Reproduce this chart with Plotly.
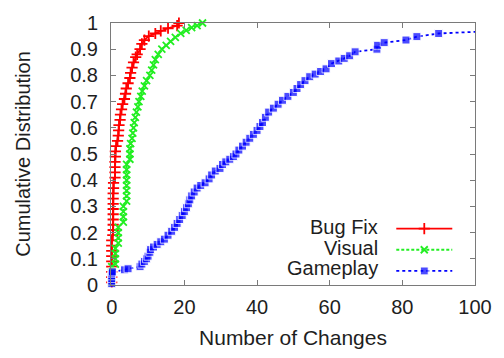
import plotly.graph_objects as go

# ---- data ----
bug_x = [0, 0, 0, 0, 0, 0, 0, 0, 0, 0.3, 0.4, 0.4, 0.4, 0.4, 0.4, 0.4, 0.4, 0.4, 0.5, 0.5,
         0.9, 0.9, 0.9, 0.9, 1.0, 1.0, 1.2, 1.6, 1.8, 1.9, 2.0, 2.3, 2.4, 2.7, 3.0, 3.5, 3.8,
         4.0, 4.5, 5.0, 5.2, 5.6, 6.0, 6.6, 7.0, 7.8, 8.3, 9.0, 10.2, 12.0, 13.5, 15.5, 18.0, 18.5]
bug_y = [0.01, 0.03, 0.05, 0.07, 0.09, 0.11, 0.13, 0.15, 0.17, 0.19, 0.21, 0.23, 0.25, 0.27,
         0.29, 0.31, 0.33, 0.35, 0.37, 0.39, 0.41, 0.43, 0.45, 0.47, 0.49, 0.51, 0.53, 0.55,
         0.57, 0.59, 0.61, 0.63, 0.65, 0.67, 0.69, 0.71, 0.73, 0.75, 0.77, 0.79, 0.81, 0.83,
         0.85, 0.87, 0.88, 0.90, 0.92, 0.935, 0.95, 0.96, 0.97, 0.98, 0.99, 1.0]

vis_x = [0, 0, 0, 0, 1, 1, 1, 1, 1.8, 1.8, 1.8, 1.8, 3.2, 3.2, 3.2, 3.2, 4.1, 4.1, 4.1, 4.1,
         4.1, 4.1, 4.1, 4.1, 5.0, 5.0, 5.0, 5.2, 5.6, 5.8, 6.0, 6.2, 6.5, 6.8, 7.2, 7.5, 8.0,
         8.4, 9.0, 9.6, 10.5, 11.0, 11.5, 12.0, 12.8, 13.8, 15.0, 16.2, 17.5, 19.0, 20.5, 22.0,
         23.5, 25.0]
vis_y = [0.01, 0.03, 0.05, 0.07, 0.08, 0.10, 0.12, 0.14, 0.16, 0.18, 0.20, 0.22, 0.24, 0.26,
         0.28, 0.30, 0.32, 0.34, 0.36, 0.38, 0.40, 0.42, 0.44, 0.46, 0.48, 0.50, 0.52, 0.54,
         0.56, 0.58, 0.60, 0.62, 0.64, 0.66, 0.68, 0.70, 0.72, 0.74, 0.76, 0.78, 0.80, 0.82,
         0.84, 0.86, 0.88, 0.90, 0.915, 0.93, 0.945, 0.96, 0.972, 0.982, 0.99, 1.0]

game_x = [0, 0, 0, 0, 0, 0.2, 3.5, 4.5, 7.8, 8.3, 9, 9.6, 10, 10.5, 10.7, 11.5, 12.5, 13.5,
          14.5, 15.5, 16.5, 17.3, 18, 18.7, 19.4, 20, 20.6, 21.1, 21.5, 22, 22.7, 23.5, 24.5,
          25.7, 26.8, 27.5, 28.5, 29.8, 30.5, 31.4, 32.5, 33.5, 34.2, 35, 36, 37, 38, 39, 40,
          40.8, 41.5, 42.3, 43.2, 44.5, 45.8, 47, 48.5, 50, 51, 52, 53.2, 54.5, 56, 57.5, 59,
          60.5, 62.5, 64, 65.5, 67, 73, 73.2, 75, 81, 84, 90, 130]
game_y = [0.005, 0.015, 0.025, 0.035, 0.045, 0.05, 0.058, 0.062, 0.07, 0.08, 0.09, 0.10, 0.11,
          0.125, 0.135, 0.145, 0.155, 0.165, 0.175, 0.19, 0.205, 0.22, 0.235, 0.25, 0.265,
          0.28, 0.295, 0.31, 0.325, 0.34, 0.355, 0.37, 0.38, 0.39, 0.405, 0.42, 0.435, 0.445,
          0.46, 0.47, 0.48, 0.49, 0.50, 0.515, 0.53, 0.545, 0.56, 0.575, 0.59, 0.605, 0.62,
          0.64, 0.66, 0.675, 0.69, 0.705, 0.72, 0.735, 0.75, 0.765, 0.78, 0.795, 0.805, 0.815,
          0.825, 0.845, 0.855, 0.865, 0.875, 0.89, 0.90, 0.915, 0.925, 0.935, 0.948, 0.96, 0.985]

series_names = ["Bug Fix", "Visual", "Gameplay"]
x_ticks = [0, 20, 40, 60, 80, 100]
y_ticks = [0, 0.1, 0.2, 0.3, 0.4, 0.5, 0.6, 0.7, 0.8, 0.9, 1]

FONT = "Liberation Sans, Arial, sans-serif"
TXT = "#1e1e1e"
AX = "#7a7a7a"
FS = 20

fig = go.Figure()

fig.add_trace(go.Scatter(
    x=bug_x, y=bug_y, mode="lines+markers", name=" ", cliponaxis=False,
    line=dict(color="#ff0000", width=1.8, dash="solid"),
    marker=dict(symbol="cross-thin-open", size=8, line=dict(color="#ff0000", width=1.8)),
))
fig.add_trace(go.Scatter(
    x=vis_x, y=vis_y, mode="lines+markers", name=" ", cliponaxis=False,
    line=dict(color="#22ee22", width=1.8, dash="3px,2px"),
    marker=dict(symbol="x-thin-open", size=7, line=dict(color="#22ee22", width=1.8)),
))
game_sizes = [8] * (len(game_x) - 1) + [0]
fig.add_trace(go.Scatter(
    x=game_x, y=game_y, mode="lines+markers", name=" ", cliponaxis=False,
    line=dict(color="#0000ff", width=1.8, dash="dot"),
    marker=dict(symbol="square", size=game_sizes, color="#0000ff"),
))

# legend labels (text sits left of the sample, as in the reference)
row_y = [0.22, 0.142, 0.064]
for name, yy in zip(series_names, row_y):
    fig.add_annotation(xref="paper", yref="paper", x=0.738, y=yy, text=name,
                       showarrow=False, xanchor="right", yanchor="middle",
                       font=dict(family=FONT, size=FS, color=TXT))

axis_common = dict(showline=True, linecolor=AX, linewidth=1, mirror="ticks",
                   ticks="inside", ticklen=5, tickcolor=AX, showgrid=False, zeroline=False,
                   tickfont=dict(family=FONT, size=FS, color=TXT))

fig.update_xaxes(range=[-0.2, 100], tickvals=x_ticks, ticklabelstandoff=4,
                 title=dict(text="Number of Changes", font=dict(family=FONT, size=21, color=TXT),
                            standoff=13),
                 **axis_common)
fig.update_yaxes(range=[0, 1], tickvals=y_ticks, ticklabelstandoff=8,
                 title=dict(text="Cumulative Distribution",
                            font=dict(family=FONT, size=FS, color=TXT), standoff=34),
                 **axis_common)

fig.update_layout(
    width=504, height=358,
    margin=dict(l=111, r=25, t=15, b=71),
    plot_bgcolor="white", paper_bgcolor="white",
    showlegend=True,
    legend=dict(x=0.77, y=0.275, xanchor="left", yanchor="top", bgcolor="rgba(0,0,0,0)",
                font=dict(family=FONT, size=14, color=TXT), itemwidth=56,
                tracegroupgap=0),
)

fig.write_html("out.html")
